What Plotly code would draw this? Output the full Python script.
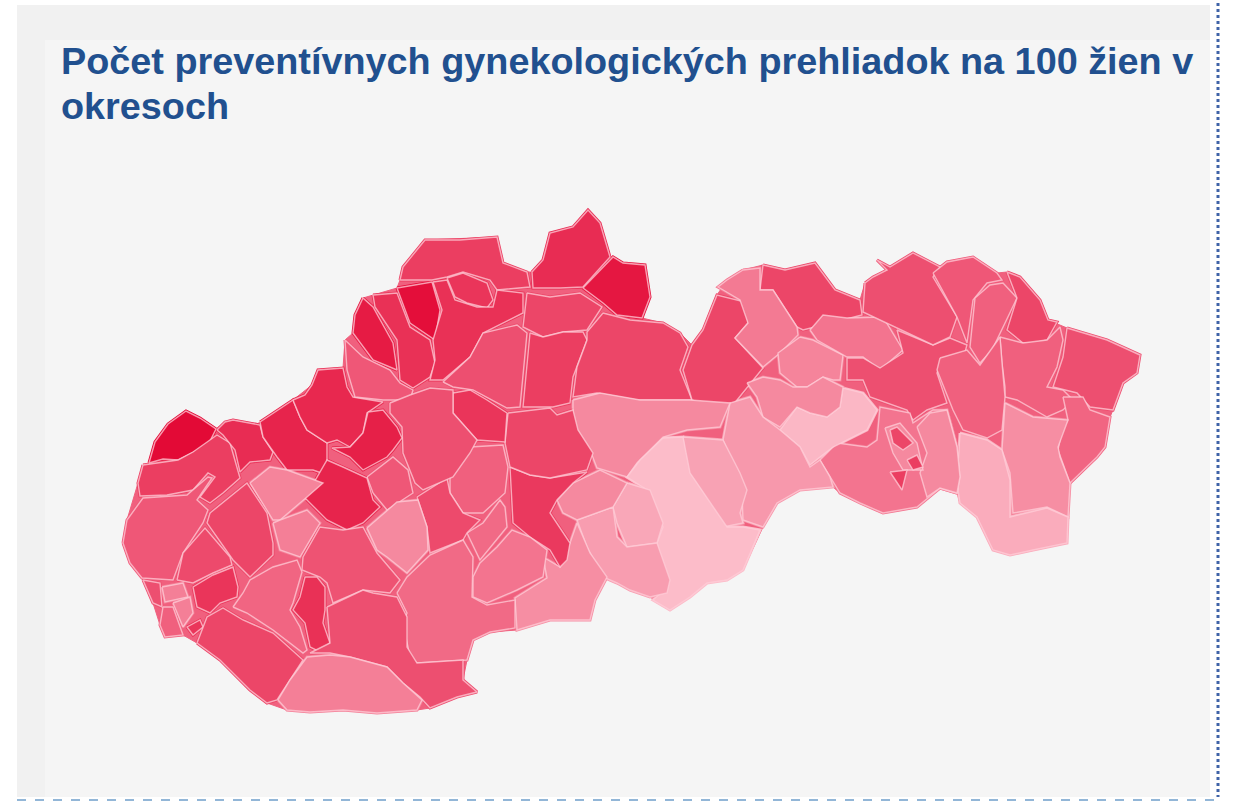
import plotly.graph_objects as go
from plotly.colors import sample_colorscale

TITLE_LINES = ["Počet preventívnych gynekologických prehliadok na 100 žien v", "okresoch"]

# estimated number of examinations per 100 women, read from the shading
district_values = {
    "Skalica": 40, "Senica": 34, "Myjava": 36, "Nové Mesto nad Váhom": 37, "Trenčín": 36.5, "Ilava": 31,
    "Púchov": 38, "Považská Bystrica": 35.5, "Bytča": 39.5, "Čadca": 34, "Kysucké Nové Mesto": 35, "Žilina": 35.5,
    "Námestovo": 36, "Tvrdošín": 38.5, "Dolný Kubín": 33, "Martin": 32, "Ružomberok": 34, "Liptovský Mikuláš": 33,
    "Poprad": 33, "Stará Ľubovňa": 33, "Kežmarok": 27.5, "Levoča": 26.5, "Sabinov": 28, "Prešov": 32,
    "Bardejov": 32, "Svidník": 31, "Stropkov": 30, "Medzilaborce": 33, "Humenné": 30, "Snina": 32,
    "Vranov nad Topľou": 30, "Sobrance": 29.5, "Michalovce": 25.5, "Trebišov": 22.5, "Košice-okolie": 28,
    "Košice-okolie východ": 26, "Gelnica": 21.5, "Spišská Nová Ves": 26, "Rožňava": 24.5, "Revúca": 23.5,
    "Brezno": 26, "Rimavská Sobota": 21, "Poltár": 23, "Lučenec": 24, "Detva": 26, "Veľký Krtíš": 25.5,
    "Zvolen": 34.5, "Banská Bystrica": 33, "Krupina": 28, "Banská Štiavnica": 29, "Žarnovica": 30,
    "Žiar nad Hronom": 32.5,
    "Turčianske Teplice": 35, "Prievidza": 32, "Bánovce nad Bebravou": 37.5, "Partizánske": 31, "Topoľčany": 37,
    "Piešťany": 26.5, "Hlohovec": 27, "Trnava": 33, "Malacky": 31, "Pezinok": 32.5, "Senec": 35,
    "Bratislava IV": 32, "Bratislava III": 27, "Bratislava II": 27, "Bratislava V": 30, "Bratislava I": 35,
    "Dunajská Streda": 33, "Galanta": 29.5, "Šaľa": 35.5, "Nitra": 31.5, "Zlaté Moravce": 26, "Levice": 29,
    "Nové Zámky": 32, "Komárno": 27, "Košice I": 26, "Košice II": 33, "Košice III": 34, "Košice IV": 34,
}
country_value = 30

# traced outline of the whole country, in map units
country_outline = [(186,411),(216,429),(225,422),(260,425),(293,400),(312,385),(318,370),(343,368),(345,340),(353,333),(355,315),(363,298),(397,288),(400,280),(403,267),(425,240),(497,237),(503,263),(527,272),(532,272),(543,260),(550,233),(573,227),(588,210),(600,223),(610,257),(623,263),(645,265),(650,297),(642,318),(663,323),(680,333),(692,345),(703,330),(717,295),(727,280),(743,270),(763,265),(785,270),(815,263),(835,290),(860,300),(865,283),(887,270),(877,260),(890,267),(913,253),(933,273),(947,262),(973,257),(997,273),(1007,272),(1020,277),(1040,300),(1048,320),(1067,328),(1107,340),(1140,355),(1137,373),(1123,383),(1113,410),(1110,417),(1105,447),(1097,457),(1070,483),(1068,517),(1067,543),(1033,550),(1010,555),(993,550),(977,517),(960,503),(957,493),(940,488),(917,507),(883,513),(860,503),(840,493),(833,487),(800,490),(777,503),(763,527),(743,570),(727,580),(707,583),(690,597),(670,610),(650,597),(630,590),(617,583),(607,577),(595,600),(590,620),(550,620),(517,630),(490,632),(473,640),(467,660),(463,680),(477,692),(457,697),(430,708),(417,710),(377,713),(343,710),(310,712),(287,710),(267,703),(250,690),(220,660),(197,643),(183,635),(165,637),(160,625),(153,603),(143,580),(130,563),(123,543),(127,520),(138,483),(143,465),(149,463),(155,442),(168,424)]

# traced district outlines, in map units
district_outlines = {
    "Skalica": [(149,463),(155,442),(168,424),(186,411),(200,418),(216,429),(208,445),(194,452),(178,460),(163,459)],
    "Senica": [(143,465),(178,460),(193,452),(217,435),(230,443),(238,470),(240,478),(223,493),(210,503),(200,497),(215,477),(208,473),(193,490),(167,495),(140,496),(138,483)],
    "Myjava": [(217,430),(225,422),(233,420),(260,425),(263,437),(273,452),(270,460),(250,462),(240,472),(235,450),(223,435)],
    "Nové Mesto nad Váhom": [(260,422),(293,400),(300,417),(307,430),(327,443),(327,475),(313,470),(287,470),(277,457),(263,437)],
    "Trenčín": [(293,400),(305,395),(312,385),(318,370),(343,368),(347,387),(353,397),(383,402),(367,413),(363,433),(350,447),(337,440),(327,443),(307,430),(300,417)],
    "Ilava": [(345,340),(363,357),(390,370),(400,383),(413,390),(410,400),(383,400),(355,397),(347,370)],
    "Púchov": [(363,298),(373,307),(393,343),(397,370),(373,360),(353,333),(355,315)],
    "Považská Bystrica": [(373,295),(397,293),(410,327),(430,340),(435,363),(430,377),(413,388),(400,380),(397,340),(375,307)],
    "Bytča": [(397,288),(432,282),(440,310),(435,340),(410,323)],
    "Čadca": [(400,280),(403,267),(425,240),(460,240),(497,237),(503,263),(527,272),(530,287),(497,290),(490,280),(463,272),(447,277),(432,280)],
    "Kysucké Nové Mesto": [(447,278),(463,273),(487,283),(493,300),(487,308),(467,303),(455,297)],
    "Žilina": [(433,282),(447,280),(455,300),(477,307),(493,307),(497,290),(523,293),(523,313),(483,333),(470,357),(443,380),(430,380),(435,360),(433,340),(442,310)],
    "Námestovo": [(532,272),(543,260),(550,233),(573,227),(588,210),(600,223),(610,257),(583,287),(560,288),(533,288)],
    "Tvrdošín": [(583,288),(613,257),(623,263),(645,265),(650,297),(642,318),(617,315),(603,303)],
    "Dolný Kubín": [(527,293),(550,297),(580,293),(602,307),(587,330),(563,332),(543,337),(523,327)],
    "Martin": [(443,382),(470,357),(483,333),(517,325),(527,333),(520,407),(507,408),(473,390),(453,387)],
    "Ružomberok": [(530,333),(543,337),(563,332),(583,332),(587,340),(573,377),(570,403),(553,407),(523,407)],
    "Liptovský Mikuláš": [(603,313),(630,320),(663,323),(680,333),(688,347),(680,370),(692,400),(637,400),(597,393),(573,397),(577,367),(587,340),(587,332)],
    "Poprad": [(692,400),(683,370),(692,345),(703,330),(717,295),(745,302),(748,323),(735,338),(763,368),(733,405),(700,403)],
    "Stará Ľubovňa": [(763,265),(785,270),(815,263),(835,290),(860,300),(862,315),(803,330),(797,327),(773,290),(760,290)],
    "Kežmarok": [(743,270),(760,268),(760,290),(773,290),(797,327),(798,335),(780,353),(763,367),(735,338),(748,323),(740,300),(718,287),(727,280)],
    "Levoča": [(800,337),(813,340),(843,355),(840,380),(833,380),(823,377),(807,387),(797,387),(780,373),(778,353)],
    "Sabinov": [(810,330),(823,315),(847,318),(883,317),(903,350),(880,370),(863,357),(847,357),(817,340)],
    "Prešov": [(847,358),(863,358),(880,368),(903,353),(897,330),(933,345),(950,338),(967,345),(965,352),(943,358),(937,373),(947,403),(927,410),(913,420),(907,410),(887,403),(870,397),(863,380),(847,380)],
    "Bardejov": [(865,283),(873,277),(887,270),(877,260),(890,267),(913,253),(940,267),(933,277),(957,317),(950,337),(933,345),(897,328),(863,312)],
    "Svidník": [(933,273),(947,262),(973,257),(997,273),(1002,280),(987,283),(973,300),(967,343),(957,317)],
    "Stropkov": [(975,298),(990,285),(1003,283),(1017,298),(1005,323),(992,350),(980,363),(970,347)],
    "Medzilaborce": [(1007,272),(1020,277),(1040,300),(1048,320),(1057,322),(1047,340),(1033,343),(1023,343),(1007,330),(1017,298)],
    "Humenné": [(1000,337),(1023,343),(1047,340),(1060,327),(1063,340),(1057,367),(1047,387),(1063,390),(1073,400),(1063,410),(1047,417),(1017,400),(1005,397),(1005,387),(1002,363)],
    "Snina": [(1067,328),(1107,340),(1140,355),(1137,373),(1123,383),(1113,410),(1090,407),(1077,393),(1053,387),(1063,357)],
    "Vranov nad Topľou": [(940,358),(967,350),(980,365),(993,347),(1000,337),(1002,363),(1005,397),(1002,430),(987,438),(963,430),(953,410),(937,370)],
    "Sobrance": [(1063,397),(1083,397),(1090,410),(1110,417),(1105,447),(1097,457),(1070,483),(1058,450),(1062,430),(1068,420)],
    "Michalovce": [(1005,403),(1033,417),(1068,420),(1058,447),(1060,457),(1070,483),(1068,517),(1047,507),(1013,513),(1010,473),(1002,450)],
    "Trebišov": [(960,433),(987,440),(1002,450),(1010,480),(1010,517),(1047,508),(1068,517),(1067,543),(1033,550),(1010,555),(993,550),(977,517),(960,503),(957,483)],
    "Košice-okolie": [(820,460),(837,443),(867,447),(877,440),(880,407),(910,413),(913,423),(933,410),(947,410),(957,447),(960,477),(957,493),(940,488),(917,507),(883,513),(860,503),(840,493),(830,477)],
    "Košice-okolie východ": [(917,427),(930,413),(947,410),(957,447),(960,477),(957,493),(940,488),(927,497),(920,473),(927,453)],
    "Gelnica": [(780,430),(797,407),(810,413),(827,417),(840,407),(843,388),(863,393),(877,410),(867,430),(847,440),(833,447),(820,457),(810,465),(800,447)],
    "Spišská Nová Ves": [(747,383),(763,377),(780,380),(793,387),(807,387),(823,377),(843,387),(840,407),(827,417),(810,413),(797,407),(780,427),(763,417),(757,397)],
    "Rožňava": [(723,440),(730,403),(750,397),(763,417),(780,430),(800,447),(810,467),(820,460),(830,477),(833,487),(800,490),(777,503),(763,527),(743,520),(742,493),(730,457)],
    "Revúca": [(683,437),(723,440),(740,473),(747,490),(740,513),(743,523),(723,527),(703,493),(687,470)],
    "Brezno": [(573,400),(600,393),(640,400),(690,400),(730,403),(720,427),(687,430),(663,437),(637,463),(627,477),(597,468),(590,450),(573,423)],
    "Rimavská Sobota": [(663,438),(683,437),(690,473),(727,527),(743,527),(760,530),(743,570),(727,580),(707,583),(690,597),(670,610),(653,600),(667,587),(657,543),(663,527),(653,500),(647,490),(627,477),(640,460)],
    "Poltár": [(627,483),(650,490),(663,523),(657,543),(627,547),(617,523),(613,507)],
    "Lučenec": [(577,520),(613,507),(617,537),(627,547),(657,543),(670,580),(667,593),(650,597),(630,590),(617,583),(603,577),(587,547)],
    "Detva": [(557,500),(573,483),(600,470),(627,483),(613,507),(577,520),(563,513)],
    "Veľký Krtíš": [(570,543),(577,523),(590,553),(607,577),(595,600),(590,620),(550,620),(517,630),(515,598),(547,578),(543,557),(560,567)],
    "Zvolen": [(510,467),(530,475),(550,478),(587,472),(573,483),(557,500),(550,513),(570,543),(567,560),(560,567),(550,550),(530,537),(513,523)],
    "Banská Bystrica": [(508,413),(550,408),(557,415),(573,410),(578,430),(593,453),(587,470),(550,478),(530,475),(510,467),(505,443)],
    "Krupina": [(473,577),(480,563),(497,547),(512,530),(530,537),(547,550),(543,577),(517,590),(487,603),(473,597)],
    "Banská Štiavnica": [(467,533),(483,523),(500,500),(505,507),(507,527),(483,557),(480,560)],
    "Žarnovica": [(450,477),(470,447),(503,445),(508,467),(505,493),(483,513),(463,513),(450,493)],
    "Žiar nad Hronom": [(417,497),(447,478),(450,493),(463,513),(480,520),(467,533),(463,540),(430,553),(427,527),(418,500)],
    "Turčianske Teplice": [(453,393),(470,390),(487,400),(507,413),(505,442),(477,440),(453,413)],
    "Prievidza": [(390,403),(410,395),(430,388),(453,390),(453,413),(477,440),(470,453),(453,477),(423,490),(415,483),(403,453),(402,427),(390,413)],
    "Bánovce nad Bebravou": [(368,412),(383,410),(397,427),(402,438),(393,450),(387,457),(363,470),(350,457),(332,448),(350,447),(363,433)],
    "Partizánske": [(367,477),(393,457),(408,470),(413,493),(387,510),(373,493)],
    "Topoľčany": [(305,498),(327,460),(343,467),(367,478),(373,500),(380,507),(363,523),(347,530),(327,520)],
    "Piešťany": [(250,483),(270,467),(287,470),(323,483),(307,497),(280,520),(273,520)],
    "Hlohovec": [(273,523),(280,520),(307,510),(320,523),(300,557),(280,550)],
    "Trnava": [(210,513),(247,483),(267,513),(273,543),(273,555),(250,577),(233,560),(207,523)],
    "Malacky": [(123,543),(127,520),(143,498),(187,495),(208,477),(212,478),(197,500),(208,510),(203,523),(183,553),(173,580),(142,578),(130,563)],
    "Pezinok": [(177,580),(183,553),(205,528),(230,557),(232,565),(213,573),(193,583)],
    "Senec": [(193,587),(213,575),(233,567),(238,587),(237,597),(220,603),(210,613),(197,607)],
    "Bratislava IV": [(143,580),(160,583),(162,607),(153,603)],
    "Bratislava III": [(162,587),(183,583),(188,597),(165,602)],
    "Bratislava II": [(173,603),(190,597),(193,613),(183,627)],
    "Bratislava V": [(163,607),(173,607),(183,635),(165,637),(160,625)],
    "Bratislava I": [(187,627),(200,620),(203,627),(193,635)],
    "Dunajská Streda": [(197,643),(207,617),(223,608),(243,620),(273,633),(303,660),(290,680),(277,700),(267,703),(250,690),(220,660)],
    "Galanta": [(233,607),(243,593),(250,580),(273,567),(297,560),(302,572),(293,603),(290,610),(300,627),(307,650),(303,653),(273,630),(247,613)],
    "Šaľa": [(305,577),(317,577),(325,587),(325,610),(323,623),(330,643),(320,652),(310,647),(305,623),(293,610),(300,597)],
    "Nitra": [(303,557),(320,527),(343,530),(363,527),(377,553),(400,580),(390,593),(363,590),(333,603),(327,583),(320,577),(302,570)],
    "Zlaté Moravce": [(367,528),(397,502),(418,500),(427,527),(428,550),(407,573),(387,557),(377,550)],
    "Levice": [(397,593),(407,577),(430,555),(463,540),(473,557),(472,597),(487,605),(515,600),(515,628),(490,632),(473,640),(467,660),(417,663),(410,657),(403,623),(407,613)],
    "Nové Zámky": [(327,607),(363,590),(373,593),(397,597),(407,617),(407,647),(417,663),(463,660),(463,680),(477,692),(457,697),(430,708),(420,697),(403,683),(387,667),(350,657),(330,653),(310,653),(330,643)],
    "Komárno": [(278,700),(290,680),(307,657),(330,655),(350,657),(387,667),(403,683),(422,700),(417,710),(377,713),(343,710),(310,712),(287,710)],
    "Košice I": [(885,428),(900,423),(917,443),(923,470),(903,470),(893,453)],
    "Košice II": [(890,430),(897,427),(913,443),(903,450),(893,443)],
    "Košice III": [(907,460),(917,455),(923,467),(913,470)],
    "Košice IV": [(890,472),(907,470),(902,490),(897,483)],
}

VMIN, VMAX = 20, 40
COLORSCALE = [[0, "#fdc6d1"], [0.5, "#f0607e"], [1, "#e30a36"]]


def colour(v):
    return sample_colorscale(COLORSCALE, [(v - VMIN) / (VMAX - VMIN)])[0]


fig = go.Figure()
names = list(district_outlines)

# the country silhouette and a thick first pass close the gaps between neighbouring outlines
cx, cy = zip(*country_outline)
base = colour(country_value)
fig.add_trace(go.Scatter(x=cx + cx[:1], y=cy + cy[:1], mode="lines", fill="toself", fillcolor=base,
                         line=dict(color=base, width=1), hoverinfo="skip", showlegend=False))
for name in names:
    xs, ys = zip(*district_outlines[name])
    c = colour(district_values[name])
    fig.add_trace(go.Scatter(x=xs + xs[:1], y=ys + ys[:1], mode="lines", fill="toself", fillcolor=c,
                             line=dict(color=c, width=3), hoverinfo="skip", showlegend=False))
for name in names:
    xs, ys = zip(*district_outlines[name])
    c = colour(district_values[name])
    fig.add_trace(go.Scatter(x=xs + xs[:1], y=ys + ys[:1], mode="lines", fill="toself", fillcolor=c,
                             line=dict(color="rgba(255,205,216,0.75)", width=1.4), hoveron="fills",
                             name=name, text=f"{name}: {district_values[name]}", hoverinfo="text", showlegend=False))

shapes = [
    dict(type="rect", xref="x", yref="y", x0=17, x1=1210, y0=5, y1=797, fillcolor="#f1f1f1", line_width=0, layer="below"),
    dict(type="rect", xref="x", yref="y", x0=45, x1=1210, y0=40, y1=797, fillcolor="#f5f5f5", line_width=0, layer="below"),
    dict(type="line", xref="x", yref="y", x0=1218, x1=1218, y0=3, y1=797, line=dict(color="#3f63a8", width=3, dash="dot"), layer="above"),
    dict(type="line", xref="x", yref="y", x0=17, x1=1215, y0=800, y1=800, line=dict(color="#6f9fca", width=1.5, dash="dash"), layer="above"),
]

title_font = dict(family="Liberation Sans", size=37.8, color="#21508f", weight="bold")
fig.update_layout(
    width=1238, height=801, margin=dict(l=0, r=0, t=0, b=0),
    paper_bgcolor="#ffffff", plot_bgcolor="#ffffff", shapes=shapes,
    xaxis=dict(range=[0, 1238], visible=False, fixedrange=True),
    yaxis=dict(range=[801, 0], visible=False, fixedrange=True),
    annotations=[dict(xref="x", yref="y", x=59, y=61, xanchor="left", yanchor="middle", showarrow=False,
                      text=TITLE_LINES[0], font=title_font),
                 dict(xref="x", yref="y", x=59, y=106, xanchor="left", yanchor="middle", showarrow=False,
                      text=TITLE_LINES[1], font=title_font)],
)
fig.write_html("out.html", config=dict(displayModeBar=False), post_script="document.body.style.margin='0';")
